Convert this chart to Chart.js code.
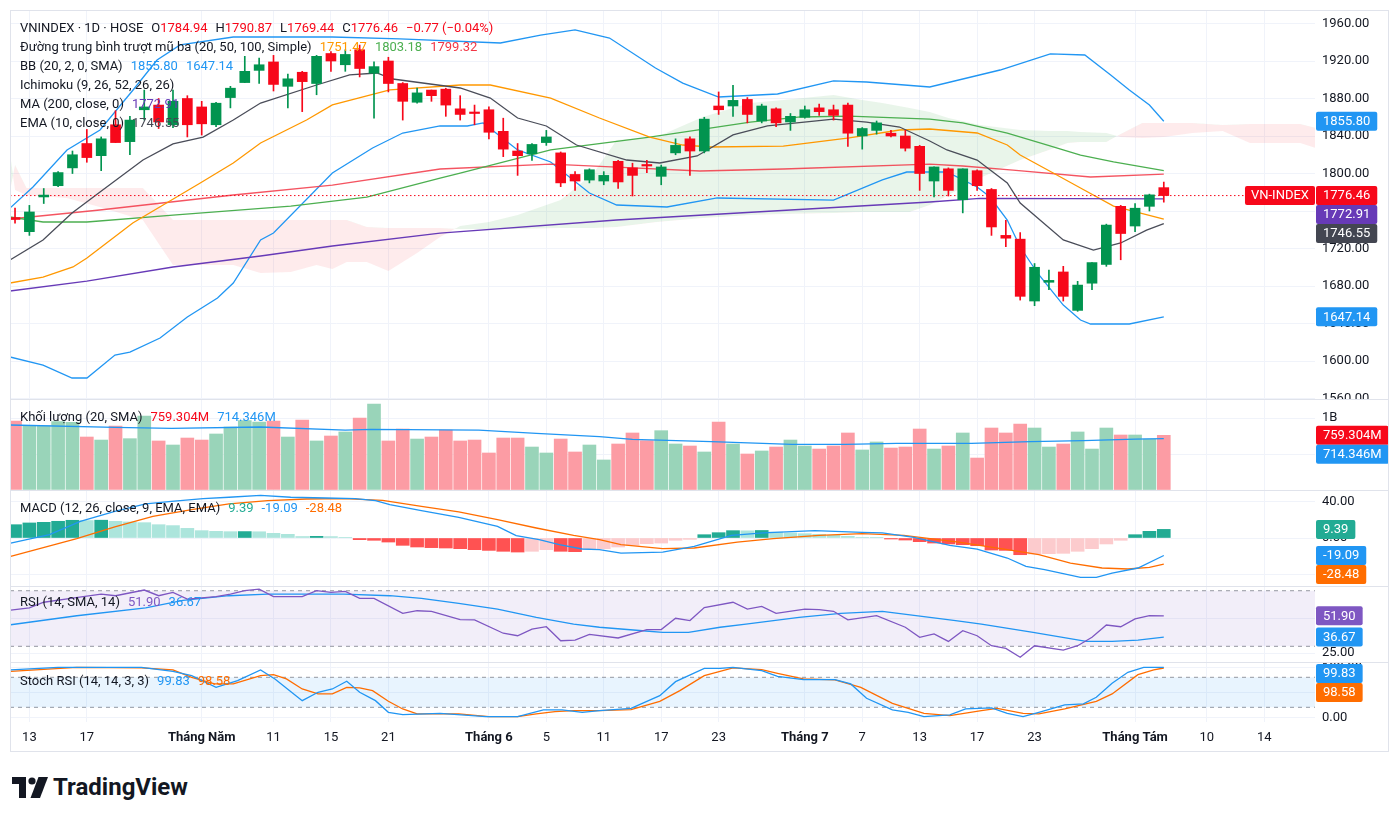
<!DOCTYPE html>
<html>
<head>
<meta charset="utf-8">
<script src="https://cdn.jsdelivr.net/npm/chart.js@4/dist/chart.umd.min.js"></script>
<style>
  body { margin: 0; background: #fff; width: 1400px; height: 818px; position: relative; overflow: hidden; font-family: Roboto, sans-serif; color: #131722; }
  canvas { position: absolute; left: 10px; }
  .frame { position: absolute; left: 10px; top: 10px; width: 1377px; height: 740px; border: 1px solid #e0e3eb; pointer-events: none; }
  .sep { position: absolute; left: 10px; width: 1378px; height: 1px; background: #e0e3eb; }
  .leg { position: absolute; left: 20px; font-size: 13px; line-height: 19px; white-space: pre; color: #131722; }
  .leg span { margin-left: 8px; }
  .leg span.n { margin-left: 0; }
  .logo { position: absolute; left: 12px; top: 773px; display: flex; align-items: center; }
  .logo b { font-size: 24px; font-weight: 700; margin-left: 5px; }
</style>
</head>
<body>
<canvas id="cMain" width="1378" height="389" style="top:10px"></canvas>
<canvas id="cVol" width="1378" height="91" style="top:399px"></canvas>
<canvas id="cMacd" width="1378" height="96" style="top:490px"></canvas>
<canvas id="cRsi" width="1378" height="76" style="top:586px"></canvas>
<canvas id="cStoch" width="1378" height="88" style="top:662px"></canvas>
<div class="sep" style="top:399px"></div>
<div class="sep" style="top:490px"></div>
<div class="sep" style="top:586px"></div>
<div class="sep" style="top:662px"></div>
<div class="frame"></div>

<div class="leg" style="top:18px">VNINDEX · 1D · HOSE<span>O</span><span class="n" style="color:#f7081a">1784.94</span><span>H</span><span class="n" style="color:#f7081a">1790.87</span><span>L</span><span class="n" style="color:#f7081a">1769.44</span><span>C</span><span class="n" style="color:#f7081a">1776.46</span><span style="color:#f7081a">−0.77 (−0.04%)</span>
Đường trung bình trượt mũ ba (20, 50, 100, Simple)<span style="color:#ff9800">1751.47</span><span style="color:#4caf50">1803.18</span><span style="color:#f23645">1799.32</span>
BB (20, 2, 0, SMA)<span style="color:#2196f3">1855.80</span><span style="color:#2196f3">1647.14</span>
Ichimoku (9, 26, 52, 26, 26)
MA (200, close, 0)<span style="color:#673ab7">1772.91</span>
EMA (10, close, 0)<span style="color:#434651">1746.55</span></div>
<div class="leg" style="top:407px">Khối lượng (20, SMA)<span style="color:#f7081a">759.304M</span><span style="color:#2196f3">714.346M</span></div>
<div class="leg" style="top:498px">MACD (12, 26, close, 9, EMA, EMA)<span style="color:#22ab94">9.39</span><span style="color:#2196f3">-19.09</span><span style="color:#ff6d00">-28.48</span></div>
<div class="leg" style="top:592px">RSI (14, SMA, 14)<span style="color:#7e57c2">51.90</span><span style="color:#2196f3">36.67</span></div>
<div class="leg" style="top:671px">Stoch RSI (14, 14, 3, 3)<span style="color:#2196f3">99.83</span><span style="color:#ff6d00">98.58</span></div>

<div class="logo">
  <svg width="36" height="21" viewBox="0 0 36 21"><path fill="#131722" d="M0 0h14v21H7V7H0z"/><circle fill="#131722" cx="20" cy="4" r="3.6"/><path fill="#131722" d="M26.5 0H36L28 21h-9.5z"/></svg>
  <b>TradingView</b>
</div>

<script>
// x axis: bar index, 81 trading days visible + empty space on the right
const X_MIN = -0.35, X_MAX = 90.53
const tickIdx = [1, 5, 13, 18, 22, 26, 33, 37, 41, 45, 49, 55, 59, 63, 67, 71, 78, 83, 87]
const tickText = ['13', '17', 'Tháng Năm', '11', '15', '21', 'Tháng 6', '5', '11', '17', '23', 'Tháng 7', '7', '13', '17', '23', 'Tháng Tám', '10', '14']
const monthTicks = ['Tháng Năm', 'Tháng 6', 'Tháng 7', 'Tháng Tám']

// candles
const open = [1753,1738,1775,1787,1806,1832,1819,1852,1834,1868, 1873,1852,1880,1871,1852,1881,1897,1910,1919,1893,
  1908,1896,1928,1916,1932,1907,1920,1896,1876,1889, 1890,1869,1865,1868,1845,1824,1821,1833,1822,1799,
  1793,1792,1813,1806,1809,1797,1822,1837,1824,1872, 1872,1879,1856,1869,1855,1860,1870,1868,1873,1840,
  1846,1843,1840,1829,1792,1805,1772,1803,1783,1734, 1730,1664,1684,1695,1654,1683,1703,1765,1744,1765, 1784.94]
const high = [1763,1766,1784,1802,1824,1847,1839,1867,1861,1889, 1880,1889,1883,1877,1876,1893,1925,1923,1926,1906,
  1909,1926,1930,1932,1937,1919,1924,1897,1891,1889, 1891,1883,1873,1871,1859,1832,1832,1846,1823,1802,
  1805,1802,1814,1811,1814,1809,1837,1839,1860,1887, 1894,1881,1874,1870,1864,1872,1874,1873,1875,1849,
  1856,1846,1846,1830,1807,1806,1805,1804,1784,1750, 1737,1704,1697,1701,1685,1705,1746,1766,1768,1778, 1790.87]
const low = [1747,1734,1768,1786,1800,1812,1803,1833,1820,1857, 1848,1849,1839,1841,1850,1870,1897,1896,1888,1870,
  1866,1884,1909,1909,1903,1859,1887,1857,1875,1877, 1861,1857,1852,1837,1818,1798,1814,1830,1786,1782,
  1790,1788,1784,1776,1801,1788,1820,1798,1822,1863, 1861,1854,1854,1850,1846,1859,1862,1857,1829,1826,
  1842,1839,1824,1782,1775,1776,1758,1782,1734,1722, 1665,1659,1676,1664,1653,1676,1701,1708,1738,1760, 1769.44]
const close = [1751,1759,1777,1801,1820,1817,1837,1833,1857,1871, 1855,1877,1852,1853,1875,1891,1909,1916,1895,1901,
  1898,1925,1920,1927,1912,1914,1896,1877,1886,1883, 1873,1863,1864,1844,1826,1819,1831,1839,1790,1792,
  1804,1798,1791,1798,1808,1807,1830,1824,1858,1868, 1878,1863,1872,1854,1861,1868,1866,1862,1843,1848,
  1854,1840,1827,1800,1807,1782,1805,1787,1743,1731, 1669,1700,1686,1669,1681,1705,1745,1736,1763,1777.23, 1776.46]

// volume in millions
const volume = [958,893,893,949,940,736,694,889,713,1028, 681,625,722,694,778,875,963,944,958,736,
  972,681,750,806,1000,1194,681,847,708,736, 833,681,694,514,722,722,597,514,708,528,
  625,417,639,792,685,824,639,611,528,944, 639,500,542,597,694,611,569,611,792,556,
  667,583,597,847,569,611,792,444,861,792, 917,861,597,639,806,569,861,764,764,708, 759.304]
const volSmaX = [-0.35,6.96,10.9,17.1,23,24.8,32.3,36.3,40.7,43,48.5,54.1,57.8,61.4,66.6,70.7,74.4,78,80]
const volSmaY = [903,871,857,875,833,843,833,787,740,704,671,635,635,649,649,671,685,708,714.346]

// overlays (bar index, price)
const bbUpperX = [-0.35,1.25,3.62,5.92,8.22,9.89,11.5,15.2,22.1,26.8,33.8,36.6,39,41.4,44.6,46.5,49,53.1,57,59.3,63.7,68.6,72.1,74.5,76.3,77.6,79,80]
const bbUpperY = [1763.2,1785.6,1825.1,1846.4,1889.1,1921.1,1937.1,1945.6,1945.6,1943.5,1939.2,1947.7,1953.1,1944.5,1912.5,1896.5,1881.6,1884.8,1898.7,1897.6,1892.3,1910.4,1927.5,1926.4,1905.1,1889.1,1873.1,1855.8]
const bbLowerX = [-0.35,1.95,3.97,5.01,6.96,8,10.1,12,14.1,15.2,17.1,18,22.1,24.9,27,29.6,31.5,32.6,35,37.3,40,41.9,45.4,48.9,57,60.4,62.1,64.9,67,67.9,69.1,70,71.2,73,74.2,74.9,77.6,80]
const bbLowerY = [1604.3,1595.7,1581.9,1581.9,1606.4,1609.6,1624.5,1646.9,1667.2,1683.2,1729.1,1736.5,1800.5,1827.2,1843.2,1850.7,1850.7,1853.9,1825.1,1812.3,1779.2,1766.4,1764.3,1773.9,1771.7,1793.1,1801.6,1801.6,1785.6,1774.9,1750.4,1721.6,1693.9,1659.7,1643.7,1639.5,1639.5,1647.14]
const sma20X = [-0.35,1.95,4.04,5.01,8.2,12.9,15.2,17.1,20.3,22.1,26.1,31,33.1,37.3,40.7,44.2,46.5,48.4,53.5,58.1,61.6,63.7,67,69.1,70,72.3,74.2,76.5,80]
const sma20Y = [1683.2,1689.6,1700.3,1709.9,1747.2,1789.9,1811.2,1832.5,1857.1,1873.1,1889.1,1894.4,1894.4,1880.5,1859.2,1838.9,1830.4,1828.3,1829.3,1837.9,1846.4,1847.5,1843.2,1830.4,1819.7,1800.5,1784.5,1765.3,1751.47]
const sma50X = [-0.35,1.95,5,11,19.2,24.5,29.6,31,37.3,44.2,51.2,54.7,58.1,63.7,66,69.1,71.9,74.2,76.5,80]
const sma50Y = [1753.6,1748.3,1748.3,1755.7,1765.3,1774.9,1795.2,1800.5,1825.1,1838.9,1854.9,1860.3,1861.3,1858.1,1853.9,1843.2,1830.4,1819.7,1812.3,1803.18]
const sma100X = [-0.35,5.9,15.2,22.1,29.6,37.3,41.9,47.7,53.5,63.7,66,69.5,74.9,80]
const sma100Y = [1751.5,1761.1,1777.1,1787.7,1804.8,1810.1,1806.9,1802.7,1804.8,1810.1,1808,1803.7,1796.3,1799.32]
const ema10X = [-0.35,1.95,3.97,5.92,8.91,11,13.1,15.2,17.1,21,23.3,25.2,26.3,31,33.1,35,37,39.1,42.6,44.9,47.5,50,52.4,57,59.3,61.6,63.7,64.9,67,69.1,70,73,75.1,77,78.8,80]
const ema10Y = [1707.7,1729.1,1757.9,1780.3,1814.4,1831.5,1838.9,1857.1,1875.2,1894.4,1905.1,1907.2,1900.8,1891.2,1880.5,1859.2,1850.7,1830.4,1814.4,1811.2,1818.7,1841.1,1850.7,1858.1,1854.9,1849.6,1834.7,1825.1,1814.4,1789.9,1768.5,1729.1,1718.4,1725.9,1739.7,1746.55]
const ma200X = [-0.35,5,11,17.1,22.1,29.6,41.9,63.7,67.2,80]
const ma200Y = [1674.7,1685.3,1700.3,1712,1722.7,1736.5,1750.4,1769.6,1773.5,1772.91]
const ichiX = [-0.4,0,0.8,3.6,5.9,8.9,11,15.2,17.1,19.2,21,22.1,23.1,24.5,26,28,29.6,31,33,35,38,40.3,41.9,44.7,47.9,51.2,53.5,57,59,60.4,62.3,63.7,65,67.2,70,72,73.3,74.2,76,77,78.5,80,82,84.1,86,87.4,89.5,90.6]
const spanA = [1827.2,1782.4,1777.1,1773.9,1764.3,1750.4,1702.4,1702.4,1693.9,1695,1702.4,1698.1,1705.6,1705.6,1696,1715.2,1732.3,1744,1748.3,1755.7,1771.7,1800.5,1835.7,1838.9,1860.3,1875.2,1878.4,1883.7,1878.4,1875.2,1869.9,1865.6,1859.2,1851.7,1846.4,1845.3,1845.3,1844.3,1843.2,1838.9,1837.9,1838.9,1843.2,1845.3,1832.5,1832.5,1832.5,1827.2]
const spanB = [1777.1,1809.1,1784.5,1784.5,1784.5,1784.5,1750.4,1750.4,1750.4,1750.4,1750.4,1750.4,1750.4,1742.9,1741.9,1741.9,1741.9,1740.8,1740.8,1740.8,1741.9,1741.9,1742.9,1748.3,1752.5,1755.7,1756.8,1757.9,1758.9,1758.9,1758.9,1766.4,1777.1,1795.2,1814.4,1825.1,1832.5,1833.6,1833.6,1842.1,1853.9,1853.9,1853.9,1851.7,1852.8,1852.8,1852.8,1848.5]

// MACD
const macdHist = [14.5,16.4,17.1,18.2,19.3,19.0,19.4,18.2,17.5,16.7, 14.5,13.5,10.5,8.0,7.3,6.9,7.0,6.8,5.1,4.0,
  1.6,1.8,1.5,0.7,-1.8,-2.5,-4.4,-8.0,-9.8,-10.5, -10.9,-11.6,-12.7,-13.5,-14.5,-15.3,-14.5,-12.7,-14.5,-14.9,
  -12.7,-11.6,-9.8,-8.0,-6.2,-5.5,-2.5,-1.5,3.6,5.8, 8.0,7.8,8.2,6.5,5.5,4.7,4.0,2.9,1.8,0.7,
  0.4,-1.1,-2.2,-4.0,-5.5,-6.5,-7.3,-8.4,-13.1,-13.5, -18.2,-17.5,-17.1,-16.7,-14.5,-11.6,-6.5,-2.5,3.6,7.3, 9.39]
const macdX = [-0.3,2.4,4.55,6.95,9.1,10.9,13.1,14.9,17.1,19.2,21.6,23.7,25.1,26.1,28.3,30.9,33.6,34.9,36.5,37.9,39.5,40.7,42.2,45.1,47.3,49.9,52.1,55.7,59,60.4,62.6,65.1,67,69.1,70.4,71.7,74.2,75.3,76.4,78.2,80]
const macdY = [-5.5,3.6,18.2,29.1,37.1,40,42.9,44.4,46.5,44.4,43.6,42.9,40.7,36.4,29.8,22.5,12.7,2.5,-1.8,-7.3,-12,-12.7,-16.4,-15.3,-9.1,2.9,5.5,8,6.2,5.5,0.7,-8,-12,-21.8,-30.9,-34.5,-42.9,-42.9,-38.2,-32.7,-19.09]
const signalX = [-0.3,4.3,6.95,9.6,12.3,14.9,17.6,20.3,22.9,25.6,28.3,30.9,33.6,36.3,38.9,40.7,42.2,45.1,47.3,50.3,52.8,56,59,61.9,65.7,69.1,71.3,73.5,75.7,77.5,79,80]
const signalY = [-20,-0.7,12,23.6,30.9,37.1,40.7,42.5,42.9,41.1,34.5,28.4,20,10.9,2.9,-1.8,-7.3,-11.6,-10.9,-4.4,-0.7,2.9,4.7,2.9,-4.4,-12.7,-18.2,-27.3,-32.7,-33.8,-32,-28.48]

// RSI
const rsiBands = [70, 30]
const rsiX = [-0.3,1,2,4,6,7,9,10,11,12,14,15,16,17,18,20,21,22,23,24,25,27,28,29,31,32,34,35,36,37,38,39,40,42,44,45,46,47,48,50,51,52,53,55,56,57,58,60,62,63,64,65,66,67,68,69,70,71,73,74,75,76,77,78,79,80]
const rsiY = [56.1,57.6,61.7,64.7,67.6,66.4,70.5,66.4,68.8,64,65.7,67.6,70,71.2,65.7,65.7,70,68.8,69.5,64.5,64.5,53.7,55.6,55.2,49.2,49,39.4,37.6,42.4,44.1,34,34.5,38.6,36,42,42,50.2,48.5,57.9,61.7,56.8,58.7,53.7,56.8,56.4,55.2,49,52.1,43.7,36.5,38.9,33.5,41.2,37.6,30.4,28.5,22.1,30.4,27.3,30.4,36.5,45.3,44.1,49.7,52.1,51.9]
const rsiMaX = [-0.3,4.3,9.1,11.7,14.9,17.6,22.9,26.1,28.3,30.9,33.6,36.3,38.9,40.7,43.7,45.1,46.9,49.1,50.9,54.6,57.5,60.4,65.5,67.3,70.9,74.6,76.4,78.2,80]
const rsiMaY = [45.5,52,57.6,63,66.4,67.6,67.6,66.4,64.5,60.9,56.8,50.8,46,43.7,41.2,40,40,43.7,46,50.8,53.7,55.2,48.5,46,40,33.5,33.5,34.5,36.67]

// Stoch RSI
const stochBands = [80, 20]
const kX = [-0.3,3,5.6,8.8,11,12.3,14,15.5,17.1,18.1,20,21.1,22.1,23.1,24,25.1,26,27,29.6,32.8,35,36.8,38.1,39.5,40.7,42.9,44.9,46,48,49.1,50,50.9,52,53.1,54.9,57.1,58.2,59.3,61.1,62.2,63.3,65.1,66.2,68,69.1,70.2,71.3,73.1,74.4,75.3,76.4,77.5,78.6,80]
const kY = [94.7,100,100,100,92,83.3,60,73.3,94.7,76.7,33.3,50,56.7,72,50,33.3,10,5.3,8,1.3,1.3,14.7,14.7,10,13.3,18,43.3,71.3,98,98,100,96.7,93.3,82,75.3,75.3,66.7,38,14.7,10,1.3,4.7,16.7,18.7,8,1.3,10,24.7,26.7,40,68,90,100,99.83]
const dX = [-0.3,4.3,8.8,11,12.3,13.9,15.2,17.1,18,18.9,20,21.1,22.1,23.1,24,24.9,26,27,28,30.9,33,35,36.3,37.6,38.9,40.7,42.9,44.9,46.3,48,50,52,53.1,54.9,57.1,58.9,61.1,63.3,65.1,67.3,68.4,70.2,71.3,73.1,75.3,76.4,78.2,79.3,80]
const dY = [92,100,98.7,94.7,80,66.7,66.7,83.3,85.3,76.7,56.7,46.7,46.7,60,58.7,53.3,32,16.7,6.7,6.7,1.3,1.3,6.7,11.3,13.3,13.3,15.3,32,53.3,83.3,98.7,95.3,88,76.7,74.7,60,28,8,3.3,13.3,18,8,6.7,16.7,32,46.7,85.3,94.7,98.58]

const UP = '#01944f', DOWN = '#f7081a'
Chart.defaults.font.family = 'Roboto, sans-serif'
Chart.defaults.font.size = 13
Chart.defaults.color = '#131722'

const pts = (xs, ys) => xs.map((x, i) => ({x, y: ys[i]}))
const last = a => a[a.length - 1]
const isUp = i => close[i] >= open[i]

function line(xs, ys, color, order, extra) {
    return Object.assign({
        type: 'line', data: pts(xs, ys), borderColor: color, borderWidth: 1.3,
        pointRadius: 0, tension: 0, fill: false, order
    }, extra || {})
}
function hline(v, order, extra) {
    return line([X_MIN, X_MAX], [v, v], '#9598a1', order, Object.assign({borderWidth: 1, borderDash: [4, 4]}, extra || {}))
}

// value tags on the price axis, pushed apart like the original
const tagPlugin = {
    id: 'tags',
    afterDraw(chart, args, opts) {
        const items = opts.items || []
        if (!items.length) return
        const {ctx, chartArea} = chart
        const ys = chart.scales.y
        const h = 19
        const list = items.map(t => ({...t, py: ys.getPixelForValue(t.value)})).sort((a, b) => a.py - b.py)
        list.forEach((t, i) => {
            if (i === 0) t.py = Math.max(t.py, chartArea.top + 2 + h / 2)
            else t.py = Math.max(t.py, list[i - 1].py + h)
        })
        ctx.save()
        ctx.font = '13px Roboto, sans-serif'
        ctx.textBaseline = 'middle'
        list.forEach(t => {
            const x = chartArea.right + 1
            const w = ctx.measureText(t.text).width + 14
            ctx.fillStyle = t.bg
            ctx.beginPath()
            ctx.roundRect(x, t.py - h / 2, w, h, 2)
            ctx.fill()
            ctx.fillStyle = '#fff'
            ctx.fillText(t.text, x + 7, t.py + 0.5)
            if (t.name) {
                const w2 = ctx.measureText(t.name).width + 12
                ctx.fillStyle = t.bg
                ctx.beginPath()
                ctx.roundRect(chartArea.right - w2, t.py - h / 2, w2, h, 2)
                ctx.fill()
                ctx.fillStyle = '#fff'
                ctx.fillText(t.name, chartArea.right - w2 + 6, t.py + 0.5)
            }
        })
        ctx.restore()
    }
}

function xAxis(show) {
    return {
        type: 'linear', min: X_MIN, max: X_MAX, bounds: 'data', offset: false,
        afterBuildTicks: s => { s.ticks = tickIdx.map(v => ({value: v})) },
        afterFit: s => { s.height = show ? 28 : 0 },
        grid: {color: '#f0f3fa', drawTicks: false, offset: false},
        border: {display: false},
        ticks: {
            display: show, autoSkip: false, maxRotation: 0, padding: 8, color: '#131722',
            font: c => ({size: 13, weight: monthTicks.includes(tickText[c.index]) ? 'bold' : 'normal'}),
            callback: v => tickText[tickIdx.indexOf(v)]
        }
    }
}
function yAxis(min, max, step, fmt) {
    return {
        position: 'right', min, max, bounds: 'data',
        afterBuildTicks: s => {
            const t = []
            for (let v = Math.ceil(min / step) * step; v <= max; v += step) t.push({value: v})
            s.ticks = t
        },
        afterFit: s => { s.width = 73; s.paddingTop = 0; s.paddingBottom = 0 },
        grid: {color: '#f0f3fa', drawTicks: false},
        border: {display: false},
        ticks: {autoSkip: false, padding: 7, color: '#131722', font: {size: 13}, callback: fmt}
    }
}
function makeChart(id, datasets, y, tags, showX) {
    return new Chart(document.getElementById(id), {
        type: 'bar',
        data: {datasets},
        options: {
            responsive: false, animation: false,
            layout: {padding: 0},
            plugins: {legend: {display: false}, tooltip: {enabled: false}, tags: {items: tags}},
            scales: {x: xAxis(showX), y}
        },
        plugins: [tagPlugin]
    })
}

// main price pane
const idx = close.map((c, i) => i)
makeChart('cMain', [
    {type: 'bar', data: idx.map(i => ({x: i, y: [open[i], close[i]]})), grouped: false, barThickness: 10, minBarLength: 1.5,
        backgroundColor: c => isUp(c.dataIndex) ? UP : DOWN, order: 0},
    {type: 'bar', data: idx.map(i => ({x: i, y: [low[i], high[i]]})), grouped: false, barThickness: 1,
        backgroundColor: c => isUp(c.dataIndex) ? UP : DOWN, order: 1},
    line([X_MIN, X_MAX], [last(close), last(close)], DOWN, 2, {borderWidth: 1, borderDash: [1.5, 2.5]}),
    line(ema10X, ema10Y, '#4a4d59', 3),
    line(ma200X, ma200Y, '#673ab7', 4),
    line(sma20X, sma20Y, '#ff9800', 5),
    line(sma50X, sma50Y, '#4caf50', 6),
    line(sma100X, sma100Y, '#f23645', 7, {borderColor: 'rgba(242,54,69,0.85)'}),
    line(bbUpperX, bbUpperY, '#2196f3', 8),
    line(bbLowerX, bbLowerY, '#2196f3', 9),
    line(ichiX, spanA, 'rgba(0,0,0,0)', 20, {borderWidth: 0,
        fill: {target: '+1', above: 'rgba(76,175,80,0.12)', below: 'rgba(242,54,69,0.1)'}}),
    line(ichiX, spanB, 'rgba(0,0,0,0)', 21, {borderWidth: 0})
], yAxis(1559.5, 1974.4, 40, v => v.toFixed(2)), [
    {value: last(bbUpperY), text: last(bbUpperY).toFixed(2), bg: '#2196f3'},
    {value: last(close), text: last(close).toFixed(2), bg: DOWN, name: 'VN-INDEX'},
    {value: last(ma200Y), text: last(ma200Y).toFixed(2), bg: '#673ab7'},
    {value: last(ema10Y), text: last(ema10Y).toFixed(2), bg: '#434651'},
    {value: last(bbLowerY), text: last(bbLowerY).toFixed(2), bg: '#2196f3'}
], false)

// volume pane
makeChart('cVol', [
    {type: 'bar', data: idx.map(i => ({x: i, y: volume[i]})), grouped: false, barThickness: 13,
        backgroundColor: c => isUp(c.dataIndex) ? '#99d4b9' : '#fc9ca4', order: 1},
    line(volSmaX, volSmaY, '#2196f3', 0)
], yAxis(0, 1264, 500, v => v === 1000 ? '1B' : (v === 500 ? '500M' : '')), [
    {value: last(volume), text: last(volume).toFixed(3) + 'M', bg: DOWN},
    {value: last(volSmaY), text: last(volSmaY).toFixed(3) + 'M', bg: '#2196f3'}
], false)

// MACD pane
function histColor(i) {
    const v = macdHist[i], p = i > 0 ? macdHist[i - 1] : null
    if (v >= 0) return (p === null || v > p) ? '#22ab94' : '#ace5dc'
    return (p !== null && v < p) ? '#ff5252' : '#fccbcd'
}
makeChart('cMacd', [
    {type: 'bar', data: idx.map(i => ({x: i, y: macdHist[i]})), grouped: false, barThickness: 13,
        backgroundColor: c => histColor(c.dataIndex), order: 2},
    line(macdX, macdY, '#2196f3', 0),
    line(signalX, signalY, '#ff6d00', 1)
], yAxis(-52.3, 52.3, 40, v => v.toFixed(2)), [
    {value: last(macdHist), text: last(macdHist).toFixed(2), bg: '#22ab94'},
    {value: last(macdY), text: last(macdY).toFixed(2), bg: '#2196f3'},
    {value: last(signalY), text: last(signalY).toFixed(2), bg: '#ff6d00'}
], false)

// RSI pane
makeChart('cRsi', [
    line(rsiX, rsiY, '#7e57c2', 0),
    line(rsiMaX, rsiMaY, '#2196f3', 1),
    hline(rsiBands[0], 5, {fill: {target: '+1'}, backgroundColor: 'rgba(126,87,194,0.1)'}),
    hline(rsiBands[1], 6)
], yAxis(18.7, 73.4, 25, v => v.toFixed(2)), [
    {value: last(rsiY), text: last(rsiY).toFixed(2), bg: '#7e57c2'},
    {value: last(rsiMaY), text: last(rsiMaY).toFixed(2), bg: '#2196f3'}
], false)

// Stoch RSI pane + date axis
makeChart('cStoch', [
    line(kX, kY, '#2196f3', 0),
    line(dX, dY, '#ff6d00', 1),
    hline(stochBands[0], 5, {fill: {target: '+1'}, backgroundColor: 'rgba(33,150,243,0.1)'}),
    hline(stochBands[1], 6)
], yAxis(-9.4, 110.6, 50, v => v.toFixed(2)), [
    {value: last(kY), text: last(kY).toFixed(2), bg: '#2196f3'},
    {value: last(dY), text: last(dY).toFixed(2), bg: '#ff6d00'}
], true)
</script>
</body>
</html>
